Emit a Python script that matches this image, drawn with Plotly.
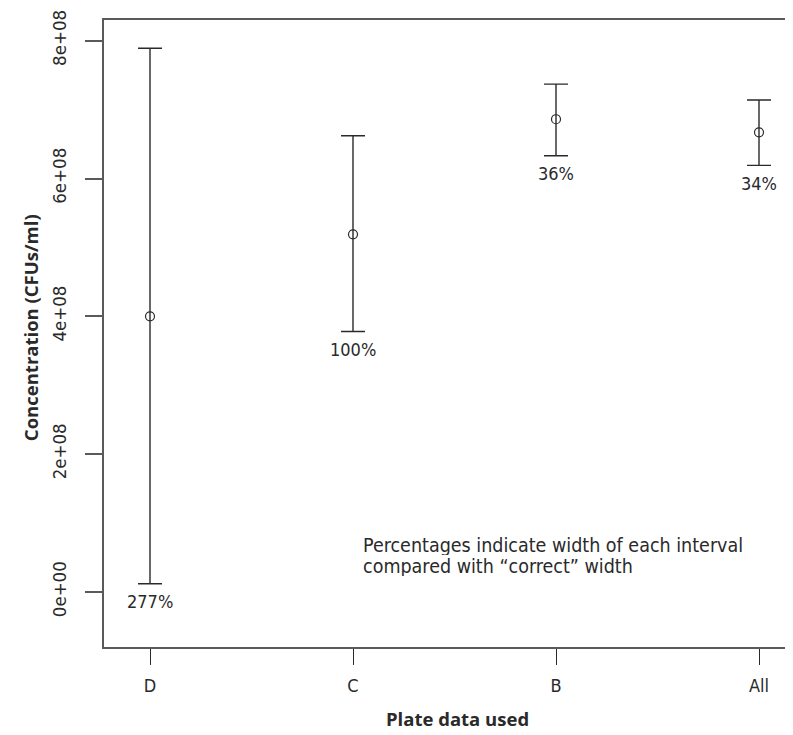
import plotly.graph_objects as go

categories = ["D", "C", "B", "All"]
x_pos = [1, 2, 3, 4]
estimates = [4.00e8, 5.19e8, 6.86e8, 6.67e8]
upper = [7.89e8, 6.62e8, 7.37e8, 7.14e8]
lower = [0.12e8, 3.78e8, 6.33e8, 6.19e8]
pct_labels = ["277%", "100%", "36%", "34%"]
y_ticks = [0, 2e8, 4e8, 6e8, 8e8]
y_tick_text = ["0e+00", "2e+08", "4e+08", "6e+08", "8e+08"]
note_lines = ["Percentages indicate width of each interval",
              "compared with “correct” width"]

FONT = "Liberation Sans Narrow, DejaVu Sans Condensed, sans-serif"
BOLD = "Open Sans, sans-serif"
INK = "#2a2a2a"
AXIS = "#5a5a5a"

# page has an 8px body margin; figure sized so the plot area lands where the reference has it
W, H = 785, 727
L, T = 96, 12
PB = 638.7            # plot bottom in figure px
PW, PH = W - L, PB - T


def px_x(fx):
    return (fx - L) / PW


def px_y(fy):
    return 1 - (fy - T) / PH


fig = go.Figure()
fig.add_trace(go.Scatter(
    x=x_pos, y=estimates, mode="markers",
    marker=dict(symbol="circle-open", size=9, color=INK, line=dict(width=1.2, color=INK)),
    error_y=dict(type="data", symmetric=False,
                 array=[u - e for u, e in zip(upper, estimates)],
                 arrayminus=[e - l for e, l in zip(estimates, lower)],
                 color=INK, thickness=1.4, width=12),
    showlegend=False, hoverinfo="skip",
))

for xi, lo, lab in zip(x_pos, lower, pct_labels):
    fig.add_annotation(x=xi, y=lo, text=lab, showarrow=False, yshift=-18,
                       yanchor="middle", xanchor="center",
                       font=dict(family=FONT, size=18, color=INK))

for i, line in enumerate(note_lines):
    fig.add_annotation(xref="paper", yref="paper", x=px_x(365 - 8 - 3),
                       y=px_y(545 - 8 + 21 * i), text=line, height=19, borderpad=0,
                       showarrow=False, xanchor="left", yanchor="middle", align="left",
                       font=dict(family=FONT, size=19.5, color=INK))

fig.add_annotation(xref="paper", yref="paper", x=px_x(457 - 8), y=px_y(718 - 8),
                   text="<b>Plate data used</b>", showarrow=False,
                   xanchor="center", yanchor="middle",
                   font=dict(family=BOLD, size=18.5, color=INK))
fig.add_annotation(xref="paper", yref="paper", x=px_x(30 - 8), y=px_y(328 - 8),
                   text="<b>Concentration (CFUs/ml)</b>", showarrow=False, textangle=-90,
                   xanchor="center", yanchor="middle",
                   font=dict(family=BOLD, size=18.5, color=INK))

fig.update_layout(
    width=W, height=H,
    margin=dict(l=L, r=0, t=T, b=H - PB, autoexpand=False),
    paper_bgcolor="white", plot_bgcolor="white",
    font=dict(family=FONT, size=16, color=INK),
    xaxis=dict(
        range=[0.7734, 4.1675], tickvals=x_pos, ticktext=categories,
        showgrid=False, zeroline=False, showline=True, mirror=True,
        linecolor=AXIS, linewidth=1.5, ticks="outside", ticklen=16,
        tickcolor=INK, tickwidth=1.2, tickfont=dict(family=FONT, size=18, color=INK),
        ticklabelstandoff=6,
    ),
    yaxis=dict(
        range=[-0.7985e8, 8.30e8], tickvals=y_ticks, ticktext=y_tick_text,
        tickangle=-90, showgrid=False, zeroline=False, showline=True, mirror=False,
        linecolor=AXIS, linewidth=1.5, ticks="outside", ticklen=17,
        tickcolor=AXIS, tickwidth=1.5, tickfont=dict(family=FONT, size=18.5, color=INK),
        ticklabelstandoff=12,
    ),
)

fig.write_html("out.html")
